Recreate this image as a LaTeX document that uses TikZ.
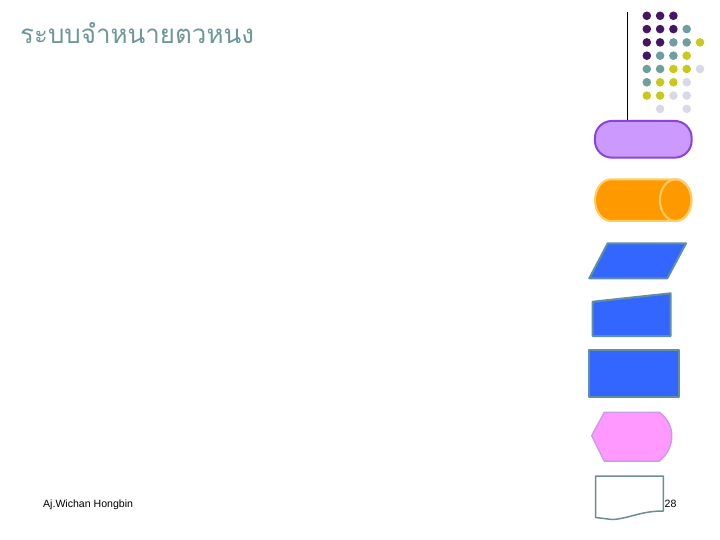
\documentclass[tikz,border=0pt]{standalone}
\usepackage{fontspec}
\setmainfont{Liberation Sans}
\newfontfamily\thaifont[Script=Thai]{Loma}
\definecolor{titlec}{HTML}{6E9898}
\definecolor{dpurple}{HTML}{451566}
\definecolor{dteal}{HTML}{6E9E9E}
\definecolor{dyellow}{HTML}{C8C81E}
\definecolor{dlav}{HTML}{D8D8E8}
\definecolor{termfill}{HTML}{CC99FF}
\definecolor{termline}{HTML}{8844DD}
\definecolor{cylfill}{HTML}{FF9900}
\definecolor{cylline}{HTML}{FFCC66}
\definecolor{bluefill}{HTML}{3366FF}
\definecolor{blueline}{HTML}{5F8FA0}
\definecolor{pinkfill}{HTML}{FF99FF}
\definecolor{pinkline}{HTML}{CC99EE}
\definecolor{docline}{HTML}{6E8E8E}
\begin{document}
\begin{tikzpicture}[x=1bp,y=-1bp,
  dot/.style={circle,inner sep=0pt,minimum size=8.6bp},
  bluebox/.style={fill=bluefill,draw=blueline,line width=2bp,line join=round}]
\useasboundingbox (0,0) rectangle (720,540);
% title
\node[anchor=base west,inner sep=0pt,text=titlec,font=\thaifont\fontsize{26}{30}\selectfont] (title) at (20,44) {ระบบจำหนายตวหนง};
% dots
\foreach \c/\cx/\cy in {
 dpurple/1/1,dpurple/2/1,dpurple/3/1,
 dpurple/1/2,dpurple/2/2,dpurple/3/2,dteal/4/2,
 dpurple/1/3,dpurple/2/3,dteal/3/3,dteal/4/3,dyellow/5/3,
 dpurple/1/4,dteal/2/4,dteal/3/4,dyellow/4/4,
 dteal/1/5,dteal/2/5,dyellow/3/5,dyellow/4/5,dlav/5/5,
 dteal/1/6,dyellow/2/6,dyellow/3/6,dlav/4/6,
 dyellow/1/7,dyellow/2/7,dlav/3/7,dlav/4/7,
 dlav/2/8,dlav/4/8}
 \node[dot,fill=\c] (d\cx\cy) at ({633.5+13.3*\cx},{2.5+13.3*\cy}) {};
% terminator
\node[draw=termline,fill=termfill,line width=2bp,rounded corners=17bp,minimum width=96.7bp,minimum height=36.7bp,inner sep=0pt] (term) at (643.3,139.3) {};
\coordinate (ltop) at (627.3,12);
\draw[line width=1bp] (ltop) -- (ltop |- term.north);
% cylinder
\filldraw[fill=cylfill,draw=cylline,line width=2bp] (611,179.3) -- (675.7,179.3) arc[start angle=-90,end angle=90,x radius=15.8,y radius=20.85] -- (611,221) arc[start angle=90,end angle=270,x radius=16,y radius=20.85] -- cycle;
\draw[cylline,line width=2bp] (675.7,200.15) ellipse[x radius=15.8,y radius=20.85];
% parallelogram
\draw[bluebox] (607.7,243.3) -- (686,243.3) -- (667.3,278.3) -- (589.3,278.3) -- cycle;
% manual input
\draw[bluebox] (592.7,301.7) -- (670.7,293.3) -- (670.7,336) -- (592.7,336) -- cycle;
% process
\draw[bluebox] (589.3,350) rectangle (679.3,396.7);
% display
\filldraw[fill=pinkfill,draw=pinkline,line width=1.5bp,line join=round] (591.7,435.7) -- (604.3,412.3) -- (659.3,412.3) .. controls (667,418) and (671.7,426) .. (671.7,436) .. controls (671.7,446) and (667,455) .. (659.3,461) -- (604.3,461) -- cycle;
% document
\draw[docline,fill=white,line width=1.5bp,line join=round] (595.7,476) -- (663.3,476) -- (663.3,511) .. controls (640,511) and (628,519) .. (612,519.5) -- (595.7,517.5) -- cycle;
% footer
\node[anchor=base west,inner sep=0pt,font=\fontsize{10.6}{12}\selectfont] (author) at (43,507) {Aj.Wichan Hongbin};
\node[anchor=base west,inner sep=0pt,font=\fontsize{10.6}{12}\selectfont] (page) at (664.5,507) {28};
\end{tikzpicture}
\end{document}
